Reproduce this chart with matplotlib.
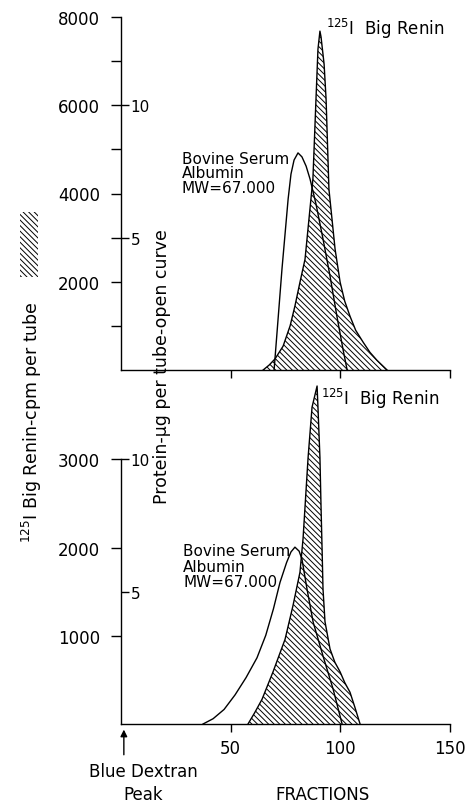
import matplotlib
matplotlib.use("Agg")
import matplotlib.pyplot as plt
from matplotlib.patches import Rectangle

# upper run: 125I big renin (cpm) and bovine serum albumin (ug protein)
top_renin_frac = [64.8, 67.5, 70.2, 73.9, 77.1, 79.3, 81.6, 83.9, 85.7, 87.5, 88.9, 89.8, 90.7,
                  91.2, 92.6, 93.5, 94.8, 96.2, 97.6, 99.9, 102.0, 104.4, 107.0, 110.4,
                  113.5, 116.7, 121.3]
top_renin_cpm = [0, 110, 250, 540, 1000, 1450, 1990, 2510, 3420, 4330, 6140, 7270, 7680,
                 7550, 6930, 6140, 4100, 3420, 2740, 1990, 1560, 1220, 900, 630,
                 400, 220, 0]
top_bsa_frac = [69.8, 73.4, 76.2, 77.5, 78.9, 80.7, 82.5, 84.4, 86.2, 88.9, 92.1,
                95.3, 98.5, 101.2, 103.1]
top_bsa_ug = [0, 3.82, 6.46, 7.40, 7.93, 8.2, 8.05, 7.70, 7.21, 6.27, 4.95,
              3.55, 2.0, 0.79, 0]

# lower run
bot_renin_frac = [57.9, 61.0, 64.3, 69.3, 74.8, 78.4, 81.6, 83.0, 83.9, 85.3, 87.1, 89.4,
                  89.8, 90.7, 91.2, 91.7, 92.1, 93.0, 95.3, 97.5, 99.9, 102.0, 104.4,
                  106.5, 109.0]
bot_renin_cpm = [0, 130, 280, 590, 960, 1340, 1720, 2100, 2460, 3020, 3590, 3830,
                 3590, 3020, 2460, 1960, 1530, 1160, 850, 700, 590, 470, 360, 200, 0]
bot_bsa_frac = [37.4, 42.0, 47.0, 52.0, 57.0, 62.0, 66.0, 69.5, 72.5, 75.5, 77.5, 79.3,
                81.2, 82.5, 84.8, 87.6, 92.1, 96.7, 100.8]
bot_bsa_ug = [0, 0.2, 0.55, 1.1, 1.75, 2.5, 3.35, 4.35, 5.35, 6.1, 6.5, 6.68,
              6.53, 6.23, 5.10, 3.85, 2.57, 1.32, 0]

x_ticks = [50, 100, 150]
HATCH = '\\\\\\\\\\\\'

plt.rcParams['hatch.linewidth'] = 0.7
plt.rcParams['font.family'] = ['DejaVu Sans']

fig = plt.figure(figsize=(4.71, 8.03), dpi=100)
W, H = 471, 803


def make_panel(bottom_px, ymax, cpm_ticks, cpm_minor, cpm_top, ug_per_cpm):
    ax = fig.add_axes([121 / W, (H - bottom_px) / H, 329 / W, 353 / H])
    ax.set_facecolor('none')
    ax.set_xlim(0, 150)
    ax.set_ylim(0, ymax)
    for s in ['top', 'right']:
        ax.spines[s].set_visible(False)
    ax.spines['left'].set_bounds(0, cpm_top)
    for s in ['left', 'bottom']:
        ax.spines[s].set_linewidth(1.0)
    ax.set_xticks(x_ticks)
    ax.set_yticks(cpm_ticks)
    ax.set_yticks(cpm_minor, minor=True)
    ax.tick_params(axis='y', which='both', direction='out', length=7, width=1.0,
                   pad=8, labelsize=12)
    ax.tick_params(axis='x', direction='out', length=6, width=1.0, pad=5, labelsize=12)

    ax2 = ax.twinx()
    ax2.set_ylim(0, ymax / ug_per_cpm)
    for s in ['top', 'left', 'bottom', 'right']:
        ax2.spines[s].set_visible(False)
    ax2.spines['right'].set_position(('axes', 0))
    ax2.set_yticks([5, 10])
    ax2.tick_params(axis='y', direction='out', length=6, width=1.0, pad=1, labelsize=11)
    return ax, ax2


# ---- top panel
ax, ax2 = make_panel(371, 8000, [2000, 4000, 6000, 8000], [1000, 3000, 5000, 7000], 8000, 600)
ax.set_xticklabels([])
ax.fill_between(top_renin_frac, top_renin_cpm, 0, facecolor='white', edgecolor='black',
                hatch=HATCH, linewidth=0)
ax.plot(top_renin_frac, top_renin_cpm, color='black', lw=1.0)
ax2.plot(top_bsa_frac, top_bsa_ug, color='black', lw=1.0)
ax.text(27.8, 4470, 'Bovine Serum\nAlbumin\nMW=67.000', fontsize=11, ha='left',
        va='center', linespacing=0.95)
ax.text(93.5, 7760, r'$^{125}$I  Big Renin', fontsize=12, ha='left', va='center')

# ---- bottom panel
bx, bx2 = make_panel(725, 4000, [1000, 2000, 3000], [], 3000, 300)
bx.fill_between(bot_renin_frac, bot_renin_cpm, 0, facecolor='white', edgecolor='black',
                hatch=HATCH, linewidth=0)
bx.plot(bot_renin_frac, bot_renin_cpm, color='black', lw=1.0)
bx2.plot(bot_bsa_frac, bot_bsa_ug, color='black', lw=1.0)
bx.text(28.3, 1790, 'Bovine Serum\nAlbumin\nMW=67.000', fontsize=11, ha='left',
        va='center', linespacing=1.05)
bx.text(91.0, 3700, r'$^{125}$I  Big Renin', fontsize=12, ha='left', va='center')

bx.annotate('', xy=(1.3, -0.008), xytext=(1.3, -0.095),
            xycoords=('data', 'axes fraction'), textcoords=('data', 'axes fraction'),
            arrowprops=dict(arrowstyle='-|>', color='black', lw=1.0, mutation_scale=10),
            annotation_clip=False)
bx.text(10, -0.165, 'Blue Dextran\nPeak', transform=bx.get_xaxis_transform(),
        ha='center', va='center', fontsize=12, linespacing=1.35)
bx.text(92, -0.198, 'FRACTIONS', transform=bx.get_xaxis_transform(),
        ha='center', va='center', fontsize=12)

# axis titles
fig.text(32 / W, (H - 422) / H, r'$^{125}$I Big Renin-cpm per tube', rotation=90,
         ha='center', va='center', fontsize=12.5)
fig.text(162 / W, (H - 367) / H, 'Protein-µg per tube-open curve', rotation=90,
         ha='center', va='center', fontsize=12.5)
fig.patches.append(Rectangle((20 / W, (H - 278) / H), 18 / W, 65 / H,
                             transform=fig.transFigure, facecolor='white',
                             edgecolor='black', hatch=HATCH, linewidth=0))

fig.savefig('out.png', dpi=100)
